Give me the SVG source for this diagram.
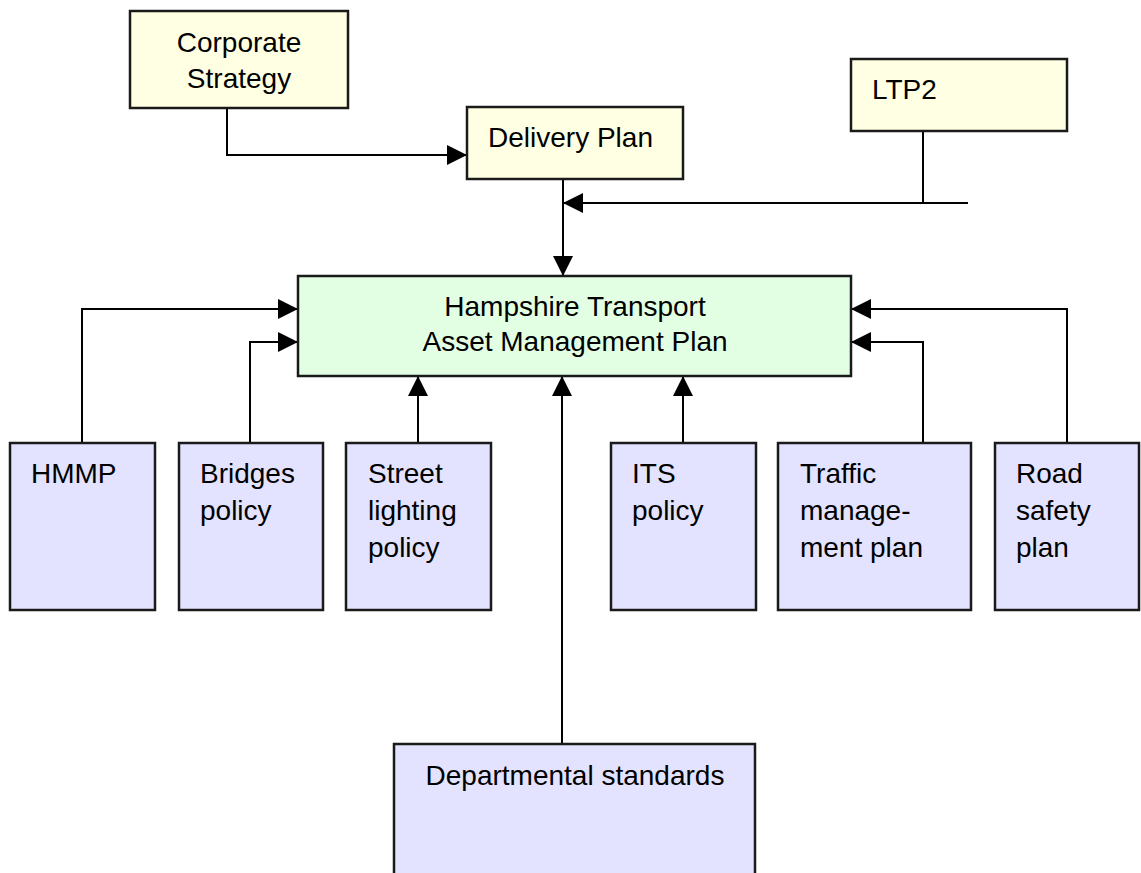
<svg xmlns="http://www.w3.org/2000/svg" width="1141" height="873" viewBox="0 0 1141 873">
<style>
  .box { stroke: #1a1a1a; stroke-width: 2.5; }
  .y { fill: #FFFFE4; }
  .g { fill: #E3FFE3; }
  .b { fill: #E3E3FF; }
  text { font-family: "Comic Sans MS", "Liberation Sans", sans-serif; font-size: 28px; fill: #000; }
  .c { text-anchor: middle; }
  .ln { fill: none; stroke: #000; stroke-width: 2; }
</style>
<defs>
  <marker id="arr" markerUnits="userSpaceOnUse" markerWidth="20" markerHeight="20" refX="20" refY="10" orient="auto">
    <path d="M0,0 L20,10 L0,20 Z" fill="#000"/>
  </marker>
</defs>
<rect width="1141" height="873" fill="#fff"/>
<g id="connectors">
  <polyline class="ln" points="227,108 227,155 467,155" marker-end="url(#arr)"/>
  <polyline class="ln" points="563,179 563,276" marker-end="url(#arr)"/>
  <polyline class="ln" points="923,131 923,203"/>
  <polyline class="ln" points="968,203 563,203" marker-end="url(#arr)"/>
  <polyline class="ln" points="82,443 82,309 298,309" marker-end="url(#arr)"/>
  <polyline class="ln" points="250,443 250,342 298,342" marker-end="url(#arr)"/>
  <polyline class="ln" points="418,443 418,376" marker-end="url(#arr)"/>
  <polyline class="ln" points="562,744 562,376" marker-end="url(#arr)"/>
  <polyline class="ln" points="683,443 683,376" marker-end="url(#arr)"/>
  <polyline class="ln" points="923,443 923,342 851,342" marker-end="url(#arr)"/>
  <polyline class="ln" points="1067,443 1067,309 851,309" marker-end="url(#arr)"/>
</g>
<g id="corporate-strategy">
  <rect class="box y" x="130" y="11" width="218" height="97"/>
  <text class="c" x="239" y="52">Corporate</text>
  <text class="c" x="239" y="88">Strategy</text>
</g>
<g id="delivery-plan">
  <rect class="box y" x="467" y="107" width="216" height="72"/>
  <text x="488" y="147">Delivery Plan</text>
</g>
<g id="ltp2">
  <rect class="box y" x="851" y="59" width="216" height="72"/>
  <text x="872" y="99">LTP2</text>
</g>
<g id="htamp">
  <rect class="box g" x="298" y="276" width="553" height="100"/>
  <text class="c" x="575" y="316">Hampshire Transport</text>
  <text class="c" x="575" y="351">Asset Management Plan</text>
</g>
<g id="hmmp">
  <rect class="box b" x="10" y="443" width="145" height="167"/>
  <text x="31" y="483">HMMP</text>
</g>
<g id="bridges-policy">
  <rect class="box b" x="179" y="443" width="144" height="167"/>
  <text x="200" y="483">Bridges</text>
  <text x="200" y="520">policy</text>
</g>
<g id="street-lighting-policy">
  <rect class="box b" x="346" y="443" width="145" height="167"/>
  <text x="368" y="483">Street</text>
  <text x="368" y="520">lighting</text>
  <text x="368" y="557">policy</text>
</g>
<g id="its-policy">
  <rect class="box b" x="611" y="443" width="145" height="167"/>
  <text x="632" y="483">ITS</text>
  <text x="632" y="520">policy</text>
</g>
<g id="traffic-management-plan">
  <rect class="box b" x="778" y="443" width="193" height="167"/>
  <text x="800" y="483">Traffic</text>
  <text x="800" y="520">manage-</text>
  <text x="800" y="557">ment plan</text>
</g>
<g id="road-safety-plan">
  <rect class="box b" x="995" y="443" width="144" height="167"/>
  <text x="1016" y="483">Road</text>
  <text x="1016" y="520">safety</text>
  <text x="1016" y="557">plan</text>
</g>
<g id="departmental-standards">
  <rect class="box b" x="394" y="744" width="361" height="140"/>
  <text class="c" x="575" y="785">Departmental standards</text>
</g>
</svg>
